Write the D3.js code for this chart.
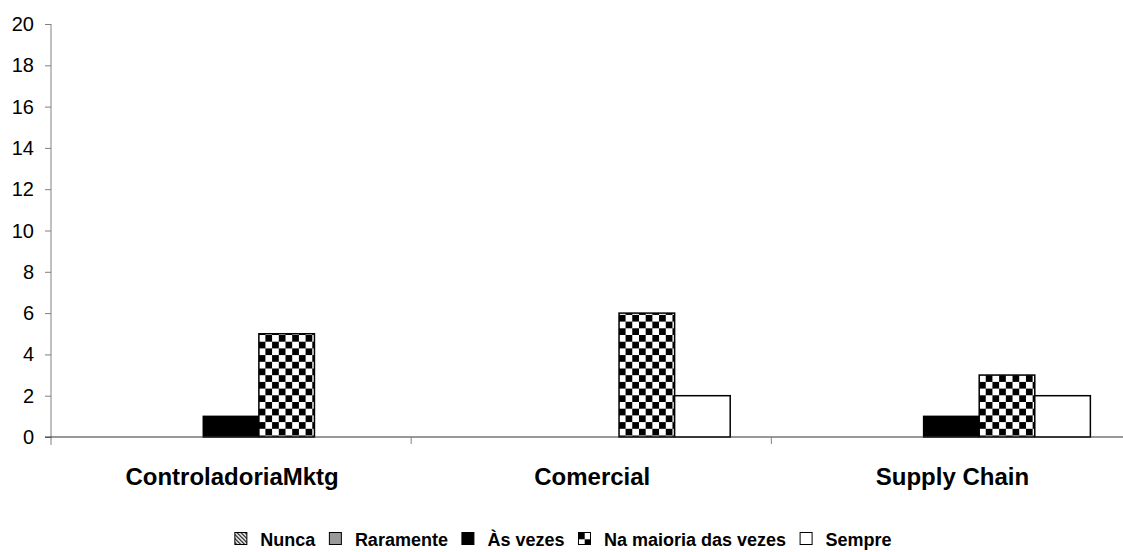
<!DOCTYPE html>
<html>
<head>
<meta charset="utf-8">
<script src="https://cdn.jsdelivr.net/npm/d3@7"></script>
<style>
  html, body { margin: 0; padding: 0; background: #fff; }
  svg { display: block; font-family: "Liberation Sans", Arial, sans-serif; }
</style>
</head>
<body>
<svg id="chart" width="1123" height="552"></svg>
<script>
// Survey answers per department
const categories = ["ControladoriaMktg", "Comercial", "Supply Chain"];
const seriesNames = ["Nunca", "Raramente", "Às vezes", "Na maioria das vezes", "Sempre"];
const nunca = [0, 0, 0];
const raramente = [0, 0, 0];
const asVezes = [1, 0, 1];
const naMaioria = [5, 6, 3];
const sempre = [0, 2, 2];
const yTicks = [0, 2, 4, 6, 8, 10, 12, 14, 16, 18, 20];

const seriesValues = [nunca, raramente, asVezes, naMaioria, sempre];

const svg = d3.select("#chart");
const defs = svg.append("defs");

// Checkerboard fill
const cell = 6.7;
const checker = defs.append("pattern")
  .attr("id", "checker").attr("patternUnits", "userSpaceOnUse")
  .attr("width", cell * 2).attr("height", cell * 2);
checker.append("rect").attr("width", cell * 2).attr("height", cell * 2).attr("fill", "#fff");
checker.append("rect").attr("width", cell).attr("height", cell).attr("fill", "#000");
checker.append("rect").attr("x", cell).attr("y", cell).attr("width", cell).attr("height", cell).attr("fill", "#000");

// Downward diagonal stripes
const diag = defs.append("pattern")
  .attr("id", "diag").attr("patternUnits", "userSpaceOnUse")
  .attr("width", 4).attr("height", 4);
diag.append("rect").attr("width", 4).attr("height", 4).attr("fill", "#fff");
diag.append("path").attr("d", "M-1,-1 L5,5 M-1,3 L1,5 M3,-1 L5,1")
  .attr("stroke", "#000").attr("stroke-width", 1.2);

const fills = ["url(#diag)", "#999999", "#000000", "url(#checker)", "#ffffff"];

const x0 = d3.scaleBand().domain(categories).range([51, 1131.5]).paddingInner(0).paddingOuter(0);
const inner = d3.scaleBand().domain(seriesNames)
  .range([0, x0.bandwidth()]).paddingOuter(0.74).paddingInner(0);
const y = d3.scaleLinear().domain([0, 20]).range([437, 24]);

// Y axis
const yAxis = svg.append("g").attr("transform", "translate(51,0)")
  .call(d3.axisLeft(y).tickValues(yTicks).tickSize(6).tickFormat(""));
yAxis.select(".domain").attr("stroke", "#808080").attr("d", "M0,24V445");
yAxis.selectAll(".tick line").attr("stroke", "#808080");
svg.append("g").selectAll("text")
  .data(yTicks).join("text")
  .attr("x", 34).attr("y", d => y(d) + 7)
  .attr("text-anchor", "end")
  .style("font-size", "20px")
  .attr("fill", "#000")
  .text(d => d);

// Bars
const groups = svg.append("g").selectAll("g")
  .data(categories).join("g")
  .attr("transform", d => `translate(${x0(d)},0)`);

groups.selectAll("rect")
  .data((c, ci) => seriesNames.map((s, si) => ({ s, si, v: seriesValues[si][ci] })).filter(d => d.v > 0))
  .join("rect")
  .attr("x", d => inner(d.s))
  .attr("width", inner.bandwidth())
  .attr("y", d => y(d.v))
  .attr("height", d => y(0) - y(d.v))
  .attr("fill", d => fills[d.si])
  .attr("stroke", "#000")
  .attr("stroke-width", 1.5);

// X axis
const xAxis = svg.append("g").attr("transform", "translate(0,437)");
xAxis.append("line").attr("x1", 45).attr("x2", 1131.5).attr("y1", 0).attr("y2", 0)
  .attr("stroke", "#333").attr("stroke-width", 1);
xAxis.selectAll("line.sep")
  .data(categories.slice(1)).join("line").attr("class", "sep")
  .attr("x1", d => x0(d)).attr("x2", d => x0(d))
  .attr("y1", 0).attr("y2", 7).attr("stroke", "#808080");
xAxis.selectAll("text")
  .data(categories).join("text")
  .attr("x", d => x0(d) + x0.bandwidth() / 2 + 1)
  .attr("y", 48)
  .attr("text-anchor", "middle")
  .style("font-size", "24px").style("font-weight", "bold")
  .text(d => d);

// Legend
const legend = svg.append("g").attr("transform", "translate(0,546)");
let cursor = 0;
const row = legend.append("g");
seriesNames.forEach((name, i) => {
  const g = row.append("g");
  g.append("rect").attr("x", 0.5).attr("y", -13.5).attr("width", 12).attr("height", 12)
    .attr("fill", fills[i]).attr("stroke", "#000").attr("stroke-width", 1);
  const t = g.append("text").attr("x", 26).attr("y", 0)
    .style("font-size", "18px").style("font-weight", "bold").text(name);
  const w = 26 + t.node().getComputedTextLength();
  g.attr("transform", `translate(${cursor},0)`);
  cursor += w + 13.5;
});
const total = cursor - 13.5;
row.attr("transform", `translate(${563 - total / 2},0)`);
</script>
</body>
</html>
